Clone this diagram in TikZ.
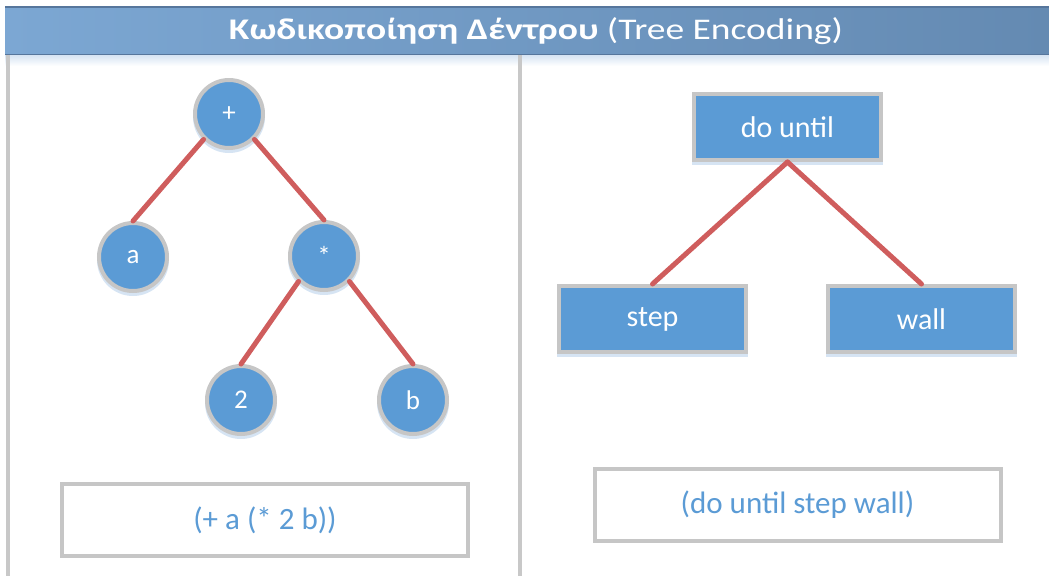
\documentclass[tikz,border=0pt]{standalone}
\usepackage{fontspec}
\setmainfont{Carlito}
\definecolor{nodeblue}{RGB}{91,155,213}
\definecolor{ringgray}{RGB}{198,198,198}
\definecolor{edgered}{RGB}{207,93,93}
\definecolor{hdrL}{RGB}{124,167,211}
\definecolor{hdrR}{RGB}{100,138,178}
\definecolor{hdrline}{RGB}{86,118,156}
\definecolor{glow}{RGB}{214,228,243}
\definecolor{exprblue}{RGB}{91,155,213}
\definecolor{panelgray}{RGB}{200,200,200}
\begin{document}
\begin{tikzpicture}[x=1pt,y=-1pt,
  opnode/.style={circle, fill=nodeblue, draw=ringgray, line width=4pt,
    minimum size=68pt, inner sep=0pt, text=white,
    font=\fontsize{27}{30}\selectfont,
    preaction={fill=glow, draw=glow, transform canvas={yshift=-3pt}}},
  opbox/.style={rectangle, fill=nodeblue, draw=ringgray, line width=4pt,
    minimum width=187pt, minimum height=66pt, inner sep=0pt, text=white,
    font=\fontsize{30}{34}\selectfont,
    preaction={fill=glow, draw=glow, transform canvas={yshift=-3pt}}},
  exprbox/.style={rectangle, fill=white, draw=ringgray, line width=4pt,
    minimum width=406pt, minimum height=72pt, inner sep=0pt, text=exprblue,
    font=\fontsize{31}{36}\selectfont},
  branch/.style={draw=edgered, line width=5pt, line cap=round},
  panel/.style={draw=panelgray, line width=4pt}]
\useasboundingbox (0,0) rectangle (1049,576);

% title bar
\shade[left color=hdrL, right color=hdrR] (5,6) rectangle (1049,55);
\shade[top color=glow, bottom color=white] (5,55) rectangle (1049,66);
\draw[hdrline, line width=1.5pt] (5,6.75) -- (1049,6.75);
\draw[hdrline, line width=1.5pt] (5,54.25) -- (1049,54.25);
\node[text=white, font=\fontsize{30}{36}\selectfont] (title) at (536,31)
  {\scalebox{1.25}[1]{\textbf{Κωδικοποίηση Δέντρου} (Tree Encoding)}};

% panel rules
\draw[panel] (8,55) -- (8,576);
\draw[panel] (520,55) -- (520,576);

% expression tree
\node[opnode] (plus) at (229,114) {+};
\node[opnode] (a)    at (133,257) {a};
\node[opnode] (star) at (324,256) {*};
\node[opnode] (two)  at (241,400) {2};
\node[opnode] (b)    at (413,400) {b};
\draw[branch] (plus.225) -- (a.north);
\draw[branch] (plus.315) -- (star.north);
\draw[branch] (star.225) -- (two.north);
\draw[branch] (star.315) -- (b.north);

% command tree
\node[opbox] (dountil) at (787.5,127) {do until};
\node[opbox] (step)    at (652.5,319) {step};
\node[opbox] (wall)    at (921.5,319) {wall};
\draw[branch] (dountil.south) -- (step.north);
\draw[branch] (dountil.south) -- (wall.north);

% linear encodings
\node[exprbox] (exprL) at (265,520) {(+ a (* 2 b))};
\node[exprbox] (exprR) at (797.5,504.5) {(do until step wall)};
\end{tikzpicture}
\end{document}
